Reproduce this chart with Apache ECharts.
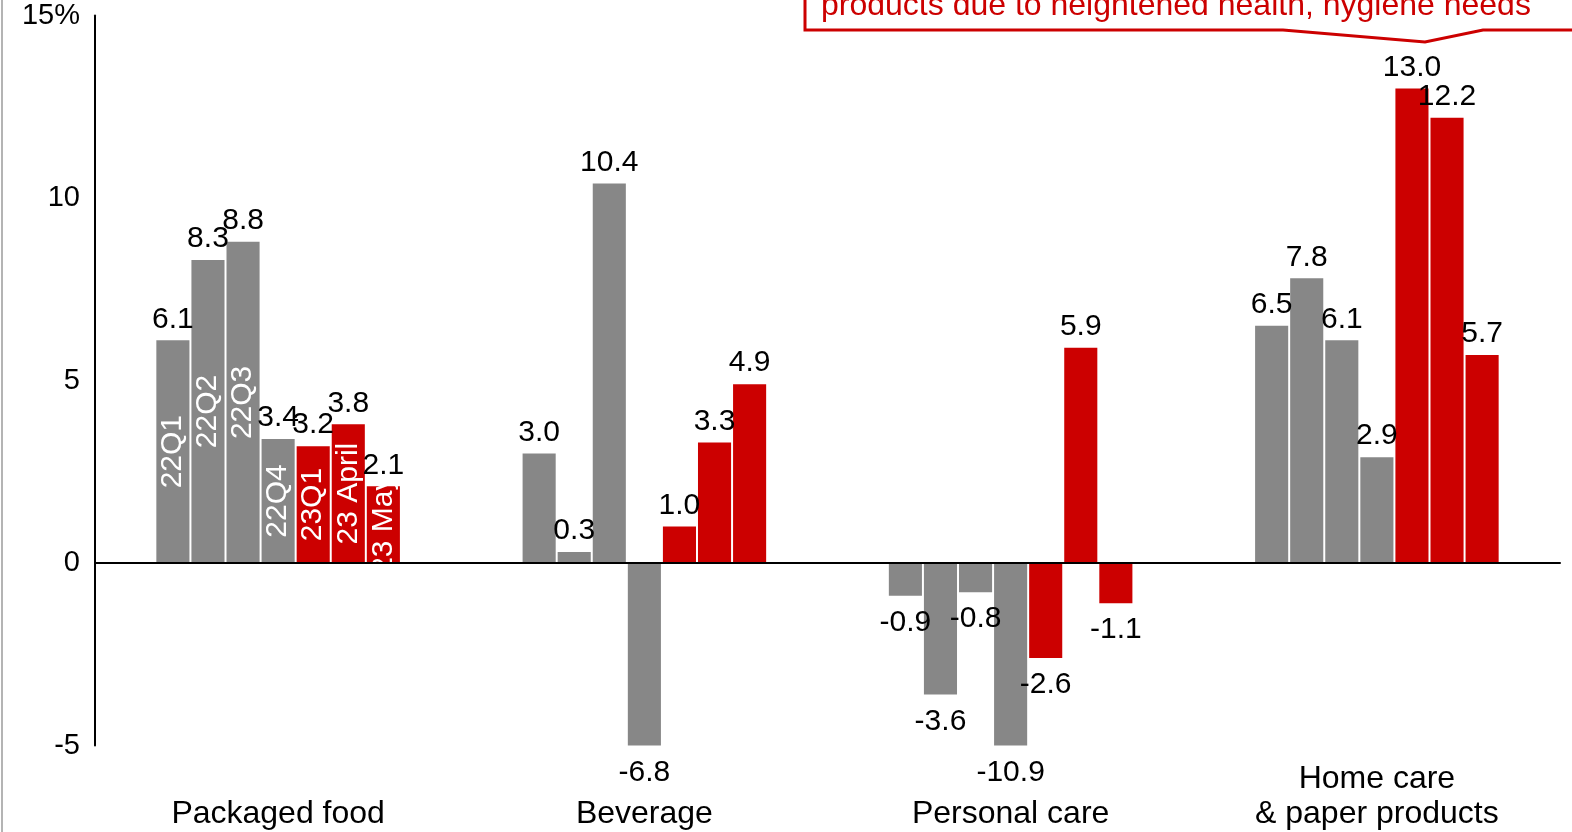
<!DOCTYPE html>
<html>
<head>
<meta charset="utf-8">
<title>Sales growth by category</title>
<script src="https://cdn.jsdelivr.net/npm/echarts@6/dist/echarts.min.js"></script>
<style>
  html, body { margin: 0; padding: 0; background: #ffffff; }
  #chart { width: 1572px; height: 832px; }
</style>
</head>
<body>
<div id="chart"></div>
<script>
// Categories along the x axis
const categories = ['Packaged food', 'Beverage', 'Personal care', 'Home care\n& paper products'];

// Periods (one bar series each)
const periods = ['22Q1', '22Q2', '22Q3', '22Q4', '23Q1', '23 April', '23 May'];

// Growth (%) per period, in category order
const growth22Q1 = [6.1, 3.0, -0.9, 6.5];
const growth22Q2 = [8.3, 0.3, -3.6, 7.8];
const growth22Q3 = [8.8, 10.4, -0.8, 6.1];
const growth22Q4 = [3.4, -6.8, -10.9, 2.9];
const growth23Q1 = [3.2, 1.0, -2.6, 13.0];
const growth23Apr = [3.8, 3.3, 5.9, 12.2];
const growth23May = [2.1, 4.9, -1.1, 5.7];

const seriesValues = [growth22Q1, growth22Q2, growth22Q3, growth22Q4, growth23Q1, growth23Apr, growth23May];

// Value axis
const yMin = -5, yMax = 15, yStep = 5;
const yTickLabels = ['-5', '0', '5', '10', '15%'];

const GREY = '#878787';
const RED = '#cc0000';
const periodColors = [GREY, GREY, GREY, GREY, RED, RED, RED];
const FONT = '"Liberation Sans", Arial, sans-serif';

const chart = echarts.init(document.getElementById('chart'), null, { renderer: 'canvas' });

const series = periods.map(function (name, i) {
  return {
    name: name,
    type: 'bar',
    xAxisIndex: 0,
    barGap: '6%',
    barCategoryGap: '33.5%',
    itemStyle: { color: periodColors[i] },
    label: {
      show: true,
      color: '#000',
      fontSize: 30,
      fontFamily: FONT,
      formatter: function (p) { return p.value.toFixed(1); }
    },
    data: seriesValues[i].map(function (v) {
      return {
        value: v,
        label: v < 0 ? { position: 'bottom', distance: 12 } : { position: 'top', distance: 6 }
      };
    }),
    // period name written up the middle of the Packaged food bar
    markPoint: {
      symbol: 'rect',
      symbolSize: 1,
      itemStyle: { color: 'rgba(0,0,0,0)' },
      label: {
        show: true,
        position: 'inside',
        rotate: 90,
        color: '#ffffff',
        fontSize: 30,
        fontFamily: FONT,
        formatter: name
      },
      data: [{ coord: [0, seriesValues[i][0] / 2] }]
    }
  };
});

chart.setOption({
  animation: false,
  backgroundColor: '#ffffff',
  grid: { left: 95, right: 12, top: 15.5, bottom: 86.5, outerBoundsMode: 'none' },
  xAxis: [
    {
      // zero line
      type: 'category',
      data: categories,
      position: 'top',
      z: 10,
      axisLine: { show: true, onZero: true, lineStyle: { color: '#000', width: 2 } },
      axisTick: { show: false },
      axisLabel: { show: false },
      splitLine: { show: false }
    },
    {
      // category names along the bottom
      type: 'category',
      data: categories,
      position: 'bottom',
      axisLine: { show: false, onZero: false },
      axisTick: { show: false },
      splitLine: { show: false },
      axisLabel: {
        show: true,
        interval: 0,
        margin: 86,
        verticalAlign: 'bottom',
        lineHeight: 35,
        color: '#000',
        fontSize: 32,
        fontFamily: FONT
      }
    }
  ],
  yAxis: {
    type: 'value',
    min: yMin,
    max: yMax,
    interval: yStep,
    axisLine: { show: true, lineStyle: { color: '#000', width: 2 } },
    axisTick: { show: false },
    splitLine: { show: false },
    axisLabel: {
      margin: 15,
      padding: [6, 0, 0, 0],
      color: '#000',
      fontSize: 29,
      fontFamily: FONT,
      formatter: function (v) { return yTickLabels[Math.round((v - yMin) / yStep)]; }
    }
  },
  series: series,
  graphic: [
    {
      // thin frame line on the left edge
      type: 'line',
      shape: { x1: 2, y1: 0, x2: 2, y2: 832 },
      style: { stroke: '#b4b4b4', lineWidth: 2 },
      silent: true
    },
    {
      // callout box
      type: 'polyline',
      shape: { points: [[805, -6], [805, 30], [1283, 30], [1425, 42], [1483, 30], [1580, 30]] },
      style: { stroke: RED, lineWidth: 3, fill: null },
      silent: true
    },
    {
      type: 'text',
      x: 821,
      y: 6,
      style: {
        text: 'products due to heightened health, hygiene needs',
        fill: RED,
        font: '32px ' + FONT,
        verticalAlign: 'middle',
        align: 'left'
      },
      silent: true
    }
  ]
});
</script>
</body>
</html>
